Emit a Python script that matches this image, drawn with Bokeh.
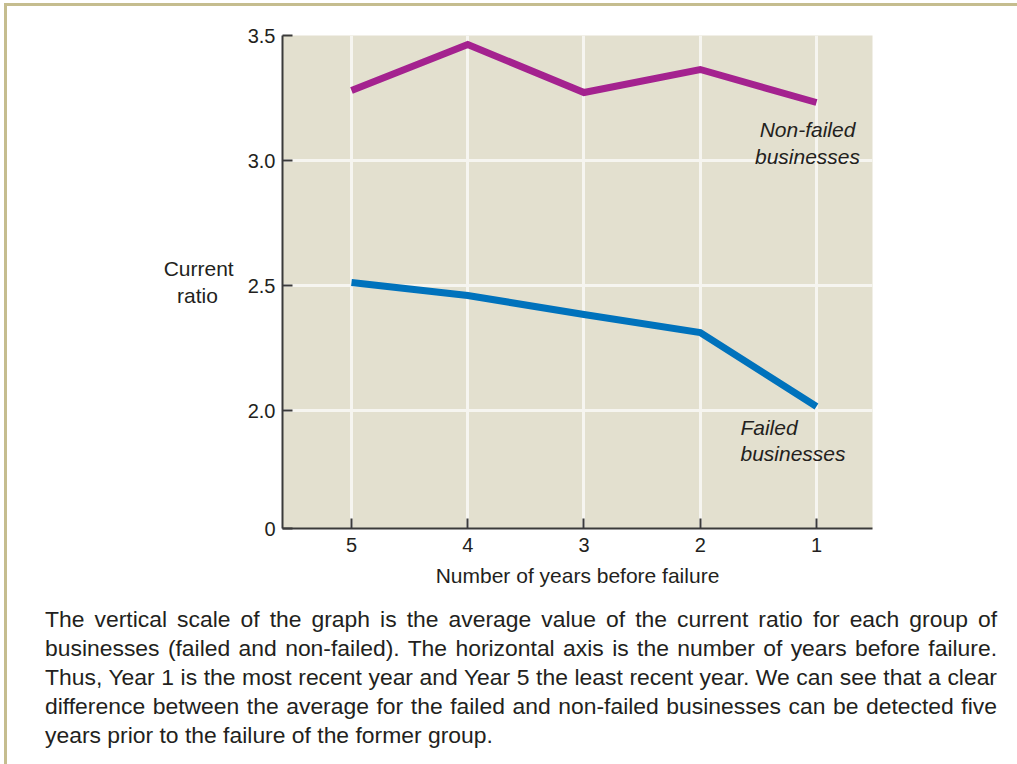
from bokeh.embed import file_html
from bokeh.layouts import column
from bokeh.models import Div, FixedTicker, Label, Range1d
from bokeh.plotting import figure
from bokeh.resources import INLINE

# Average current ratio, by number of years before failure
years = [5, 4, 3, 2, 1]
non_failed_ratio = [3.28, 3.464, 3.272, 3.364, 3.232]
failed_ratio = [2.512, 2.46, 2.384, 2.312, 2.016]

# The vertical axis is broken below 2.0; its floor carries the "0" label.
y_floor = 1.528
y_top = 3.5
y_tick_values = [y_floor, 2.0, 2.5, 3.0, 3.5]
y_tick_labels = ["0", "2.0", "2.5", "3.0", "3.5"]
y_grid_values = [2.0, 2.5, 3.0]
x_tick_labels = ["5", "4", "3", "2", "1"]

caption_lines = [
    "The vertical scale of the graph is the average value of the current ratio for each group of",
    "businesses (failed and non-failed). The horizontal axis is the number of years before failure.",
    "Thus, Year 1 is the most recent year and Year 5 the least recent year. We can see that a clear",
    "difference between the average for the failed and non-failed businesses can be detected five",
    "years prior to the failure of the former group.",
]

FONT = "Liberation Sans"
INK = "#231f20"

p = figure(
    width=1010, height=592,
    x_range=Range1d(5.5935, 0.518),
    y_range=Range1d(y_floor, y_top),
    output_backend="svg", toolbar_location=None,
    min_border_left=275, min_border_right=145,
    min_border_top=29, min_border_bottom=70,
    background_fill_color="#e3e0cf", border_fill_color="white",
    outline_line_color=None,
)

# axes
for ax in (p.xaxis[0], p.yaxis[0]):
    ax.axis_line_color = "#3a3a3a"
    ax.axis_line_width = 2
    ax.major_tick_line_color = "#3a3a3a"
    ax.major_tick_line_width = 2
    ax.major_tick_in = 10
    ax.major_tick_out = 0
    ax.minor_tick_line_color = None
    ax.major_label_text_font = FONT
    ax.major_label_text_font_size = "20px"
    ax.major_label_text_color = INK
    ax.axis_label_text_font = FONT
    ax.axis_label_text_font_size = "21px"
    ax.axis_label_text_font_style = "normal"
    ax.axis_label_text_color = INK

p.xaxis.ticker = FixedTicker(ticks=years)
p.xaxis.major_label_overrides = dict(zip(years, x_tick_labels))
p.xaxis.major_label_standoff = 9
p.xaxis.axis_label = "Number of years before failure"
p.xaxis.axis_label_standoff = 9

p.yaxis.ticker = FixedTicker(ticks=y_tick_values)
p.yaxis.major_label_overrides = dict(zip(y_tick_values, y_tick_labels))
p.yaxis.major_label_standoff = 7
# two-line horizontal title; the short line is padded so both lines share a centre
p.yaxis.axis_label = "Current\nratio\u00a0\u00a0\u2009"
p.yaxis.axis_label_orientation = "horizontal"
p.yaxis.axis_label_standoff = 11

# grid
p.xgrid.ticker = FixedTicker(ticks=years)
p.ygrid.ticker = FixedTicker(ticks=y_grid_values)
for g in (p.xgrid[0], p.ygrid[0]):
    g.grid_line_color = "#f6f5f0"
    g.grid_line_width = 3

# series
p.line(years, non_failed_ratio, line_color="#a4228f", line_width=7, line_join="miter")
p.line(years, failed_ratio, line_color="#0072bc", line_width=7, line_join="miter")


def add_text(x, y, text, align="center", style="normal"):
    p.add_layout(Label(
        x=x, y=y, text=text, text_align=align, text_baseline="middle",
        text_font=FONT, text_font_size="21px", text_font_style=style,
        text_color=INK,
    ))


# series names
add_text(1.077, 3.124, "Non-failed", style="italic")
add_text(1.077, 3.016, "businesses", style="italic")
add_text(1.654, 1.932, "Failed", align="left", style="italic")
add_text(1.654, 1.828, "businesses", align="left", style="italic")

rows = []
for i, line in enumerate(caption_lines):
    last = i == len(caption_lines) - 1
    align = "left" if last else "justify"
    rows.append(
        f'<div style="text-align:{align};text-align-last:{align};">{line}</div>'
    )

caption = Div(
    text='<div style="width:952px;">' + "".join(rows) + "</div>",
    width=1010, height=166,
    styles={
        "font-family": f"'{FONT}', Arial, sans-serif",
        "font-size": "22.9px",
        "line-height": "29px",
        "color": INK,
        "padding": "2px 0px 0px 33px",
        "box-sizing": "border-box",
    },
)

page = column(
    p, caption, spacing=0,
    styles={
        "border-left": "3px solid #c5bd8f",
        "border-top": "3px solid #c5bd8f",
        "margin-left": "4px",
        "margin-top": "3px",
    },
)

open("out.html", "w").write(file_html(page, INLINE))
